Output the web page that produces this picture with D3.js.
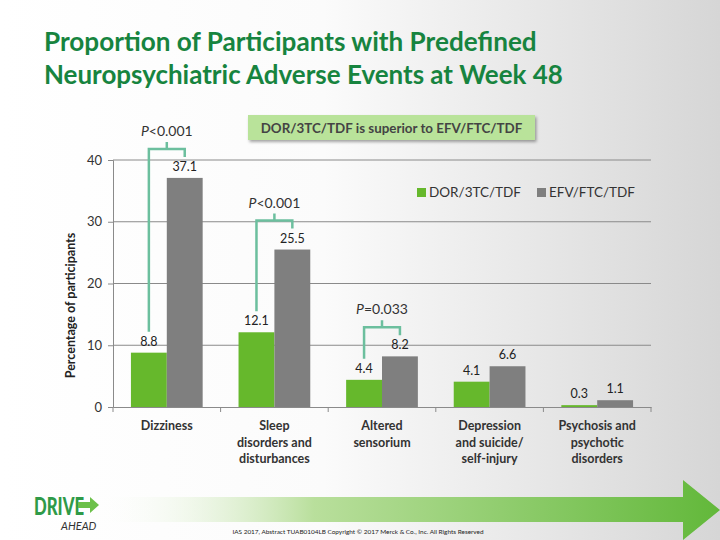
<!DOCTYPE html>
<html>
<head>
<meta charset="utf-8">
<script src="https://cdn.jsdelivr.net/npm/d3@7"></script>
<style>
  html, body { margin: 0; padding: 0; background: #fff; }
  svg { display: block; }
  text { font-family: Lato, "Open Sans", sans-serif; }
</style>
</head>
<body>
<svg id="chart" width="720" height="540"></svg>
<script>
// ---- data ----
const categories = [
  "Dizziness",
  "Sleep disorders and disturbances",
  "Altered sensorium",
  "Depression and suicide/ self-injury",
  "Psychosis and psychotic disorders"
];
const categoryLines = [
  ["Dizziness"],
  ["Sleep", "disorders and", "disturbances"],
  ["Altered", "sensorium"],
  ["Depression", "and suicide/", "self-injury"],
  ["Psychosis and", "psychotic", "disorders"]
];
const seriesNames = ["DOR/3TC/TDF", "EFV/FTC/TDF"];
const dorValues = [8.8, 12.1, 4.4, 4.1, 0.3];
const efvValues = [37.1, 25.5, 8.2, 6.6, 1.1];
const yTicks = [0, 10, 20, 30, 40];
const pCategories = ["Dizziness", "Sleep disorders and disturbances", "Altered sensorium"];
const pLabels = ["P<0.001", "P<0.001", "P=0.033"];
const titleLines = ["Proportion of Participants with Predefined", "Neuropsychiatric Adverse Events at Week 48"];
const bannerText = "DOR/3TC/TDF is superior to EFV/FTC/TDF";
const yAxisTitle = "Percentage of participants";
const footerText = "IAS 2017, Abstract TUAB0104LB Copyright \u00A9 2017 Merck & Co., Inc. All Rights Reserved";

// ---- styles ----
const GREEN = "#66b82c";
const GRAY = "#7f7f7f";
const TEAL = "#6cbf9e";
const TITLE_GREEN = "#17843f";

const svg = d3.select("#chart");
const defs = svg.append("defs");

// background gradient
const bg = defs.append("linearGradient").attr("id", "bg").attr("x1", 0).attr("x2", 1).attr("y1", 0).attr("y2", 0);
bg.append("stop").attr("offset", "0").attr("stop-color", "#ffffff");
bg.append("stop").attr("offset", "0.45").attr("stop-color", "#fbfbfb");
bg.append("stop").attr("offset", "1").attr("stop-color", "#d6d6d6");
svg.append("rect").attr("width", 720).attr("height", 540).attr("fill", "url(#bg)");

// arrow gradient
const ag = defs.append("linearGradient").attr("id", "arrowGrad").attr("x1", 0).attr("x2", 1).attr("y1", 0).attr("y2", 0);
ag.append("stop").attr("offset", "0").attr("stop-color", "#ffffff").attr("stop-opacity", 0);
ag.append("stop").attr("offset", "0.35").attr("stop-color", "#b9df9c");
ag.append("stop").attr("offset", "1").attr("stop-color", "#62b83a");

// shadow
const sh = defs.append("filter").attr("id", "shadow").attr("x", "-10%").attr("y", "-30%").attr("width", "120%").attr("height", "170%");
sh.append("feDropShadow").attr("dx", 1.5).attr("dy", 2).attr("stdDeviation", 1.5).attr("flood-color", "#000").attr("flood-opacity", 0.35);

// ---- title ----
function fitText(sel, width) {
  const w = sel.node().getComputedTextLength();
  const fs = parseFloat(sel.attr("font-size"));
  sel.attr("font-size", fs * width / w);
}
const t1 = svg.append("text").attr("x", 44).attr("y", 51).attr("font-size", 24).attr("font-weight", 700)
  .attr("fill", TITLE_GREEN).text(titleLines[0]);
fitText(t1, 493);
const t2 = svg.append("text").attr("x", 44).attr("y", 84).attr("font-size", 24).attr("font-weight", 700)
  .attr("fill", TITLE_GREEN).text(titleLines[1]);
fitText(t2, 519);

// ---- scales ----
const plotLeft = 113, plotRight = 651, plotTop = 160, plotBottom = 407;
const x = d3.scaleBand().domain(categories).range([plotLeft, plotRight]).paddingInner(0).paddingOuter(0);
const xSub = d3.scaleBand().domain(seriesNames).range([0, x.bandwidth()]).paddingOuter(0.5).paddingInner(0);
const y = d3.scaleLinear().domain([0, 40]).range([plotBottom, plotTop]);

// gridlines
svg.append("g").selectAll("line").data(yTicks.filter(d => d > 0)).join("line")
  .attr("x1", plotLeft).attr("x2", plotRight)
  .attr("y1", d => y(d)).attr("y2", d => y(d))
  .attr("stroke", "#8a8a8a").attr("stroke-width", 1);

// y axis
const yAxis = svg.append("g").attr("transform", `translate(${plotLeft},0)`)
  .call(d3.axisLeft(y).tickValues(yTicks).tickSize(5).tickPadding(6));
yAxis.select(".domain").attr("stroke", "#8a8a8a");
yAxis.selectAll(".tick line").attr("stroke", "#8a8a8a");
yAxis.selectAll(".tick text").attr("font-size", 13).attr("fill", "#333").attr("font-family", "Lato, sans-serif");

svg.append("text").attr("transform", `translate(75,${(plotTop + plotBottom) / 2 + 22}) rotate(-90)`)
  .attr("text-anchor", "middle").attr("font-size", 12.5).attr("font-weight", 700).attr("fill", "#222")
  .text(yAxisTitle);

// bars
const rows = categories.map((c, i) => ({ cat: c, values: [dorValues[i], efvValues[i]] }));
const colors = d3.scaleOrdinal().domain(seriesNames).range([GREEN, GRAY]);
const groups = svg.append("g").selectAll("g").data(rows).join("g")
  .attr("transform", d => `translate(${x(d.cat)},0)`);
groups.selectAll("rect").data(d => d.values.map((v, j) => ({ s: seriesNames[j], v }))).join("rect")
  .attr("x", d => xSub(d.s)).attr("width", xSub.bandwidth())
  .attr("y", d => y(d.v)).attr("height", d => y(0) - y(d.v))
  .attr("fill", d => colors(d.s));
groups.selectAll("text.val").data(d => d.values.map((v, j) => ({ s: seriesNames[j], v }))).join("text")
  .attr("class", "val")
  .attr("x", d => xSub(d.s) + xSub.bandwidth() / 2)
  .attr("y", d => y(d.v) - 7)
  .attr("text-anchor", "middle").attr("font-size", 12.5).attr("fill", "#222")
  .text(d => d3.format(".1f")(d.v));

// x axis
const xAxis = svg.append("g").attr("transform", `translate(0,${plotBottom})`)
  .call(d3.axisBottom(x).tickSize(0).tickFormat(""));
xAxis.select(".domain").attr("stroke", "#8a8a8a");
svg.append("g").selectAll("line").data(d3.range(categories.length + 1)).join("line")
  .attr("x1", i => plotLeft + i * x.bandwidth()).attr("x2", i => plotLeft + i * x.bandwidth())
  .attr("y1", plotBottom).attr("y2", plotBottom + 5).attr("stroke", "#8a8a8a");

// category labels
const catG = svg.append("g").selectAll("text").data(categories).join("text")
  .attr("x", d => x(d) + x.bandwidth() / 2).attr("y", 430)
  .attr("text-anchor", "middle").attr("font-size", 12.5).attr("font-weight", 700).attr("fill", "#333");
catG.each(function (d, i) {
  d3.select(this).selectAll("tspan").data(categoryLines[i]).join("tspan")
    .attr("x", x(d) + x.bandwidth() / 2).attr("dy", (l, k) => k === 0 ? 0 : 16.5).text(l => l);
});

// legend
const legend = svg.append("g");
const legendX = [417, 537];
seriesNames.forEach((s, i) => {
  legend.append("rect").attr("x", legendX[i]).attr("y", 188).attr("width", 9).attr("height", 9).attr("fill", colors(s));
  legend.append("text").attr("x", legendX[i] + 12).attr("y", 197).attr("font-size", 13.5).attr("fill", "#333").text(s);
});

// significance brackets
const bracketG = svg.append("g");
pCategories.forEach((c, i) => {
  const idx = categories.indexOf(c);
  const xl = x(c) + xSub(seriesNames[0]) + xSub.bandwidth() / 2;
  const xr = x(c) + xSub(seriesNames[1]) + xSub.bandwidth() / 2;
  const yl = y(dorValues[idx]) - 21;
  const yr = y(efvValues[idx]) - 21;
  const yt = yr - 8;
  const xm = (xl + xr) / 2;
  bracketG.append("path")
    .attr("d", `M${xl},${yl} V${yt} H${xr} V${yr} M${xm},${yt} V${yt - 7}`)
    .attr("fill", "none").attr("stroke", TEAL).attr("stroke-width", 2.5);
  const txt = bracketG.append("text").attr("x", xm).attr("y", yt - 13).attr("text-anchor", "middle")
    .attr("font-size", 14).attr("fill", "#333");
  txt.append("tspan").attr("font-style", "italic").text(pLabels[i].slice(0, 1));
  txt.append("tspan").text(pLabels[i].slice(1));
});

// banner
svg.append("rect").attr("x", 248).attr("y", 115).attr("width", 287).attr("height", 25)
  .attr("fill", "#b9e39a").attr("filter", "url(#shadow)");
const bt = svg.append("text").attr("x", 391.5).attr("y", 132.5).attr("text-anchor", "middle")
  .attr("font-size", 14.5).attr("font-weight", 700).attr("fill", "#444").text(bannerText);
fitText(bt, 262);

// bottom arrow
svg.append("path")
  .attr("d", "M95,497 L683,497 L683,480 L720,510 L683,540 L683,522 L95,522 Z")
  .attr("fill", "url(#arrowGrad)");

// logo
svg.append("text").attr("x", 34).attr("y", 515).attr("font-size", 25).attr("font-weight", 900)
  .attr("fill", "#2f9a48").attr("textLength", 50).attr("lengthAdjust", "spacingAndGlyphs").text("DRIVE");
svg.append("path").attr("d", "M78,502 L90,502 L90,497 L99,505 L90,513 L90,508 L78,508 Z").attr("fill", "#6cc04a");
svg.append("text").attr("x", 61).attr("y", 530).attr("font-size", 11).attr("font-style", "italic")
  .attr("fill", "#333").text("AHEAD");

// footer
const ft = svg.append("text").attr("x", 358).attr("y", 534).attr("text-anchor", "middle")
  .attr("font-size", 6.5).attr("fill", "#222").text(footerText);
fitText(ft, 252);
</script>
</body>
</html>
